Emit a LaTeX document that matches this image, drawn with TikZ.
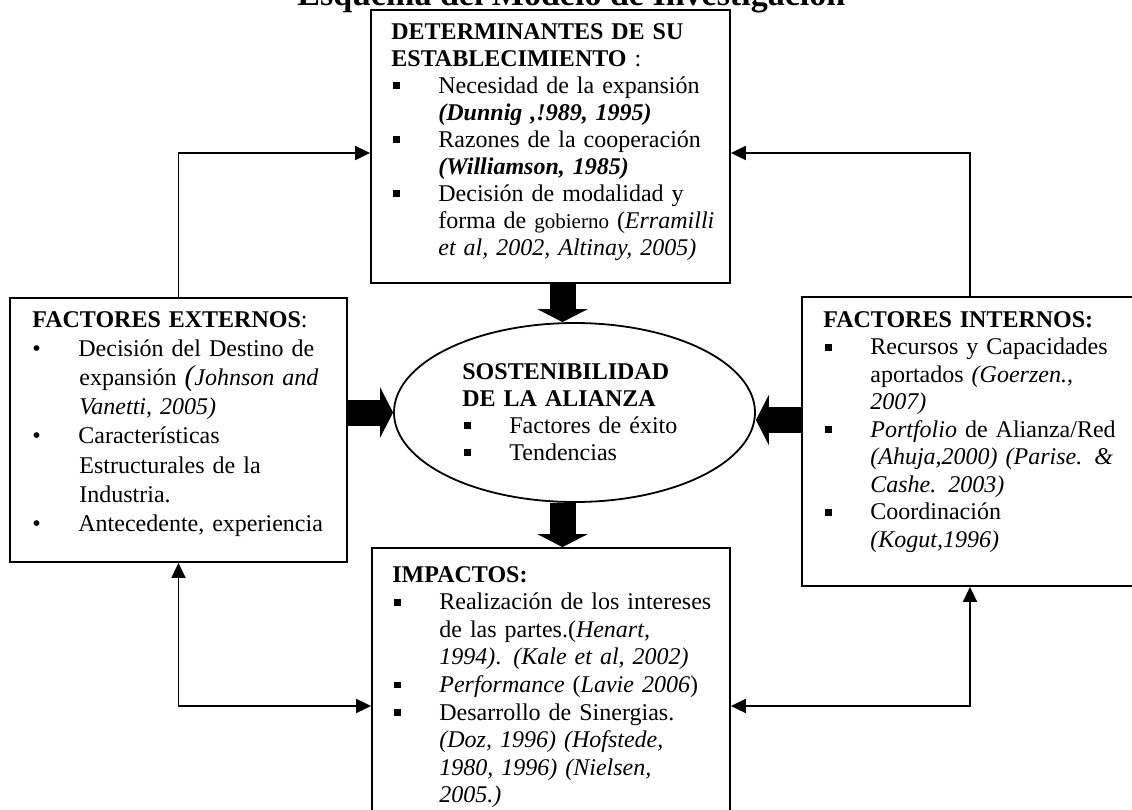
\documentclass[tikz,border=0pt]{standalone}
\usepackage{fontspec}
\setmainfont{Liberation Serif}
\usepackage{tikz}
\usetikzlibrary{shapes.geometric,arrows.meta}
\newcommand{\sqb}{\makebox[23.5pt][l]{\hspace{1pt}\rule[2pt]{3.4pt}{3.4pt}}}
\newcommand{\rdb}{\makebox[23pt][l]{\textbullet}}
\newcommand{\hid}{\hspace*{23.5pt}}

\begin{document}
\begin{tikzpicture}[x=0.5pt,y=-0.5pt,
	>={Triangle[length=7.5pt,width=7pt]},
	box/.style={draw,line width=0.9pt,inner sep=0pt},
	oval/.style={draw,ellipse,line width=0.9pt,inner sep=0pt},
	words/.style={anchor=base west,inner sep=0pt,align=left,text width=#1},
	link/.style={line width=0.9pt},
	bigarrow/.style={line width=13pt,-{Triangle[length=6.5pt,width=25pt]}}]
	\path[use as bounding box,clip] (0,0) rectangle (1132,810);
	\node[anchor=base west,inner sep=0pt,font=\bfseries\fontsize{17}{18}\selectfont] (title) at (297,5) {Esquema del Modelo de Investigación};
	\node[box,minimum width=179.5pt,minimum height=136.5pt] (det) at (550.5,146.5) {};
	\node[box,minimum width=168.5pt,minimum height=132pt] (ext) at (178.5,430) {};
	\node[box,minimum width=168pt,minimum height=144.5pt] (int) at (970,441.5) {};
	\node[box,minimum width=179pt,minimum height=133.5pt] (imp) at (551,681.5) {};
	\node[oval,minimum width=180.5pt,minimum height=89.5pt] (sos) at (574.5,412.5) {};
	\node[words=170pt,font=\fontsize{12}{13.5}\selectfont] (det-t) at (391,39) {\textbf{DETERMINANTES DE SU}\\
		\textbf{ESTABLECIMIENTO} :\\
		\sqb Necesidad de la expansión\\
		\hid\textbf{\textit{(Dunnig ,!989, 1995)}}\\
		\sqb Razones de la cooperación\\
		\hid\textbf{\textit{(Williamson, 1985)}}\\
		\sqb Decisión de modalidad y\\
		\hid forma de {\fontsize{10.5}{12}\selectfont gobierno} (\textit{Erramilli}\\
		\hid\textit{et al, 2002, Altinay, 2005)}};
	\node[words=157pt,font=\fontsize{12}{14.6}\selectfont] (ext-t) at (32,327) {\textbf{FACTORES EXTERNOS}:\\
		\rdb Decisión del Destino de\\
		\hid expansión \textit{{\fontsize{14.5}{14}\selectfont(}Johnson and}\\
		\hid\textit{Vanetti, 2005)}\\
		\rdb Características\\
		\hid Estructurales de la\\
		\hid Industria.\\
		\rdb Antecedente, experiencia};
	\node[words=150pt,font=\fontsize{12}{13.75}\selectfont] (int-t) at (823,327) {\textbf{FACTORES INTERNOS:}\\
		\sqb Recursos y Capacidades\\
		\hid aportados \textit{(Goerzen.,}\\
		\hid\textit{2007)}\\
		\sqb \textit{Portfolio} de Alianza/Red\\
		\hid\textit{(Ahuja,2000) (Parise. \&}\\
		\hid\textit{Cashe. 2003)}\\
		\sqb Coordinación\\
		\hid\textit{(Kogut,1996)}};
	\node[words=165pt,font=\fontsize{12}{13.8}\selectfont] (imp-t) at (392,582) {\textbf{IMPACTOS:}\\
		\sqb Realización de los intereses\\
		\hid de las partes.(\textit{Henart,}\\
		\hid\textit{1994)}. \textit{(Kale et al, 2002)}\\
		\sqb \textit{Performance} (\textit{Lavie 2006})\\
		\sqb Desarrollo de Sinergias.\\
		\hid\textit{(Doz, 1996) (Hofstede,}\\
		\hid\textit{1980, 1996) (Nielsen,}\\
		\hid\textit{2005.)}};
	\node[words=140pt,font=\fontsize{12}{13.5}\selectfont] (sos-t) at (462,379) {\textbf{SOSTENIBILIDAD}\\
		\textbf{DE LA ALIANZA}\\
		\sqb Factores de éxito\\
		\sqb Tendencias};
	\draw[bigarrow] ([xshift=6pt]det.south) -- ([xshift=-6pt]sos.north);
	\draw[bigarrow] ([xshift=-6pt]sos.south) -- ([xshift=5.75pt]imp.north);
	\draw[bigarrow] (ext.east |- sos.west) -- (sos.west);
	\coordinate (rin) at ([yshift=-3.75pt]sos.east);
	\draw[bigarrow] (int.west |- rin) -- (rin);
	\coordinate (ul) at (ext.north |- 0,153);
	\coordinate (ur) at (int.north |- 0,153);
	\coordinate (ll) at (ext.south |- 0,706);
	\coordinate (lr) at (int.south |- 0,706);
	\draw[link,->] (ext.north) -- (ul) -- (ul -| det.west);
	\draw[link,->] (int.north) -- (ur) -- (ur -| det.east);
	\draw[link,<->] (ext.south) -- (ll) -- (ll -| imp.west);
	\draw[link,<->] (int.south) -- (lr) -- (lr -| imp.east);
\end{tikzpicture}
\end{document}
